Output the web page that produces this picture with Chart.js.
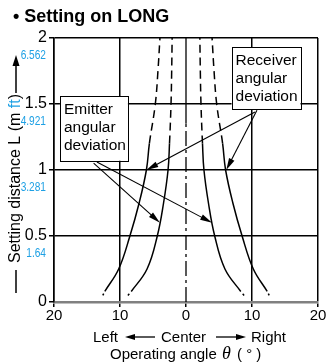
<!DOCTYPE html>
<html>
<head>
<meta charset="utf-8">
<title>Setting on LONG</title>
<script src="https://cdn.jsdelivr.net/npm/chart.js"></script>
<style>
  html, body { margin: 0; padding: 0; background: #fff; }
  canvas { display: block; }
</style>
</head>
<body>
<canvas id="chart" width="328" height="364"></canvas>
<script>
// setting distance L (m) where the curves were sampled
const distance = [0.05, 0.08, 0.25, 0.5, 0.75, 1.0, 1.2, 1.5, 1.75, 2.0];
// operating angle (deg) at each distance, negative = left of center
const emitterRight = [8.8, 8.3, 5.9, 4.35, 3.4, 2.72, 2.5, 2.27, 2.17, 2.1];
const emitterLeft = [-8.8, -8.3, -5.9, -4.35, -3.4, -2.72, -2.5, -2.27, -2.17, -2.1];
const receiverRight = [12.6, 12.3, 10.2, 8.5, 7.1, 6.0, 5.55, 4.65, 4.25, 3.95];
const receiverLeft = [-12.6, -12.3, -10.2, -8.5, -7.1, -6.0, -5.55, -4.65, -4.25, -3.95];
// same ticks in feet, written under the metre ticks
const yTicksM = [0.5, 1, 1.5, 2];
const yTicksFt = ['1.64', '3.281', '4.921', '6.562'];

const dashedFrom = 1.2;      // curves are only guaranteed below this
const centerSolidFrom = 1.35;

const FONT = '"Liberation Sans", Arial, Helvetica, sans-serif';
const BLUE = '#1ea0e4';

function pts(xs) {
  return xs.map((x, i) => ({ x: x, y: distance[i] }));
}

function curve(label, xs) {
  return {
    label: label,
    data: pts(xs),
    showLine: true,
    borderColor: '#000',
    borderWidth: 1.5,
    pointRadius: 0,
    tension: 0.4,
    segment: {
      borderDash: ctx => {
        if (ctx.p0.parsed.y >= dashedFrom) return [8, 5];
        if (ctx.p0DataIndex === 0) return [2, 10];
        return undefined;
      }
    }
  };
}

// callout boxes and their arrows, in chart units (angle, L)
const callouts = [
  { lines: ['Emitter', 'angular', 'deviation'], box: [-19.1, 1.56, -8.8, 1.07],
    arrows: [[-14.0, 1.052, -3.95, 0.6], [-13.5, 1.06, 3.95, 0.6]] },
  { lines: ['Receiver', 'angular', 'deviation'], box: [6.9, 1.93, 17.35, 1.46],
    arrows: [[10.45, 1.44, -6.0, 1.0], [10.75, 1.452, 6.1, 1.0]] }
];

function arrow(ctx, x1, y1, x2, y2, len, half) {
  const a = Math.atan2(y2 - y1, x2 - x1);
  const c = Math.cos(a), s = Math.sin(a);
  ctx.beginPath();
  ctx.moveTo(x1, y1);
  ctx.lineTo(x2 - c * len * 0.7, y2 - s * len * 0.7);
  ctx.stroke();
  ctx.beginPath();
  ctx.moveTo(x2, y2);
  ctx.lineTo(x2 - c * len - s * half, y2 - s * len + c * half);
  ctx.lineTo(x2 - c * len + s * half, y2 - s * len - c * half);
  ctx.closePath();
  ctx.fill();
}

const decorations = {
  id: 'decorations',
  afterDraw(chart) {
    const ctx = chart.ctx;
    const xs = chart.scales.x, ys = chart.scales.y;
    ctx.save();
    ctx.fillStyle = '#000';
    ctx.strokeStyle = '#000';

    // heading
    ctx.font = 'bold 18px ' + FONT;
    ctx.textBaseline = 'alphabetic';
    ctx.textAlign = 'left';
    ctx.fillText('\u2022 Setting on LONG', 13, 22);

    // feet values under the metre ticks
    ctx.fillStyle = BLUE;
    ctx.font = '13px ' + FONT;
    ctx.textAlign = 'right';
    ctx.textBaseline = 'middle';
    yTicksM.forEach((v, i) => {
      const y = ys.getPixelForValue(v) + 17.5;
      ctx.save();
      ctx.translate(46, y);
      ctx.scale(0.78, 1);
      ctx.fillText(yTicksFt[i], 0, 0);
      ctx.restore();
    });

    // y axis title, reading upwards
    ctx.save();
    ctx.translate(16, 263);
    ctx.rotate(-Math.PI / 2);
    ctx.font = '16px ' + FONT;
    ctx.textAlign = 'left';
    ctx.textBaseline = 'middle';
    let tx = 0;
    [['Setting distance L (m ', '#000'], ['ft', BLUE], [')', '#000']].forEach(([t, c]) => {
      ctx.fillStyle = c;
      ctx.fillText(t, tx, 0);
      tx += ctx.measureText(t).width;
    });
    ctx.restore();
    ctx.fillStyle = '#000';
    ctx.lineWidth = 1.5;
    ctx.beginPath();
    ctx.moveTo(16, 270);
    ctx.lineTo(16, 293);
    ctx.stroke();
    arrow(ctx, 16, 93, 16, 55, 11, 3.5);

    // x axis direction row
    ctx.font = '15px ' + FONT;
    ctx.textAlign = 'left';
    ctx.textBaseline = 'alphabetic';
    ctx.fillText('Left', 93, 342);
    ctx.fillText('Center', 161, 342);
    ctx.fillText('Right', 251, 342);
    ctx.lineWidth = 1.3;
    arrow(ctx, 155, 337, 125, 337, 10, 3);
    arrow(ctx, 216, 337, 246, 337, 10, 3);

    // x axis title
    ctx.fillText('Operating angle', 110, 359);
    ctx.font = 'italic 18px "Liberation Serif", "Times New Roman", serif';
    ctx.fillText('\u03b8', 222, 359);
    ctx.font = '15px ' + FONT;
    ctx.fillText('( \u00b0 )', 237, 359);

    // callouts
    callouts.forEach(co => {
      const l = xs.getPixelForValue(co.box[0]), t = ys.getPixelForValue(co.box[1]);
      const r = xs.getPixelForValue(co.box[2]), b = ys.getPixelForValue(co.box[3]);
      ctx.fillStyle = '#fff';
      ctx.fillRect(l, t, r - l, b - t);
      ctx.lineWidth = 1;
      ctx.strokeStyle = '#000';
      ctx.strokeRect(Math.round(l) + 0.5, Math.round(t) + 0.5, Math.round(r - l), Math.round(b - t));
      ctx.fillStyle = '#000';
      ctx.font = '15.5px ' + FONT;
      ctx.textAlign = 'left';
      co.lines.forEach((ln, i) => ctx.fillText(ln, l + 4, t + 18 + i * 18));
      ctx.lineWidth = 1.1;
      co.arrows.forEach(a => {
        arrow(ctx, xs.getPixelForValue(a[0]), ys.getPixelForValue(a[1]),
              xs.getPixelForValue(a[2]), ys.getPixelForValue(a[3]), 12, 3);
      });
    });
    ctx.restore();
  }
};

new Chart(document.getElementById('chart'), {
  type: 'scatter',
  data: {
    datasets: [
      curve('Emitter left', emitterLeft),
      curve('Emitter right', emitterRight),
      curve('Receiver left', receiverLeft),
      curve('Receiver right', receiverRight),
      {
        label: 'Center',
        data: [{ x: 0, y: 0 }, { x: 0, y: centerSolidFrom }, { x: 0, y: 2 }],
        showLine: true,
        borderColor: '#000',
        borderWidth: 1.3,
        pointRadius: 0,
        segment: {
          borderDash: ctx => ctx.p0.parsed.y < centerSolidFrom ? [15, 4, 3, 4] : undefined
        }
      }
    ]
  },
  options: {
    responsive: false,
    animation: false,
    layout: { padding: { top: 38, right: 10, left: 0, bottom: 0 } },
    plugins: {
      legend: { display: false },
      tooltip: { enabled: false },
      title: { display: false }
    },
    scales: {
      x: {
        type: 'linear',
        min: -20,
        max: 20,
        afterFit: s => { s.height = 62; },
        ticks: {
          stepSize: 10,
          padding: 0,
          color: '#000',
          font: { family: FONT, size: 15 },
          callback: v => String(Math.abs(v))
        },
        grid: {
          color: ctx => ctx.tick && ctx.tick.value === 0 ? 'rgba(0,0,0,0)' : '#000',
          lineWidth: 1.5,
          tickColor: '#000',
          tickLength: 5
        },
        border: { color: '#808080', width: 2.5 }
      },
      y: {
        type: 'linear',
        min: 0,
        max: 2,
        afterFit: s => { s.width = 54; },
        ticks: {
          stepSize: 0.5,
          padding: 2,
          color: '#000',
          font: { family: FONT, size: 16 },
          callback: v => String(v)
        },
        grid: {
          color: ctx => ctx.tick && ctx.tick.value === 0 ? 'rgba(0,0,0,0)' : '#000',
          lineWidth: 1.5,
          tickColor: '#000',
          tickLength: 5
        },
        border: { color: '#000', width: 1.5 }
      }
    }
  },
  plugins: [decorations]
});
</script>
</body>
</html>
